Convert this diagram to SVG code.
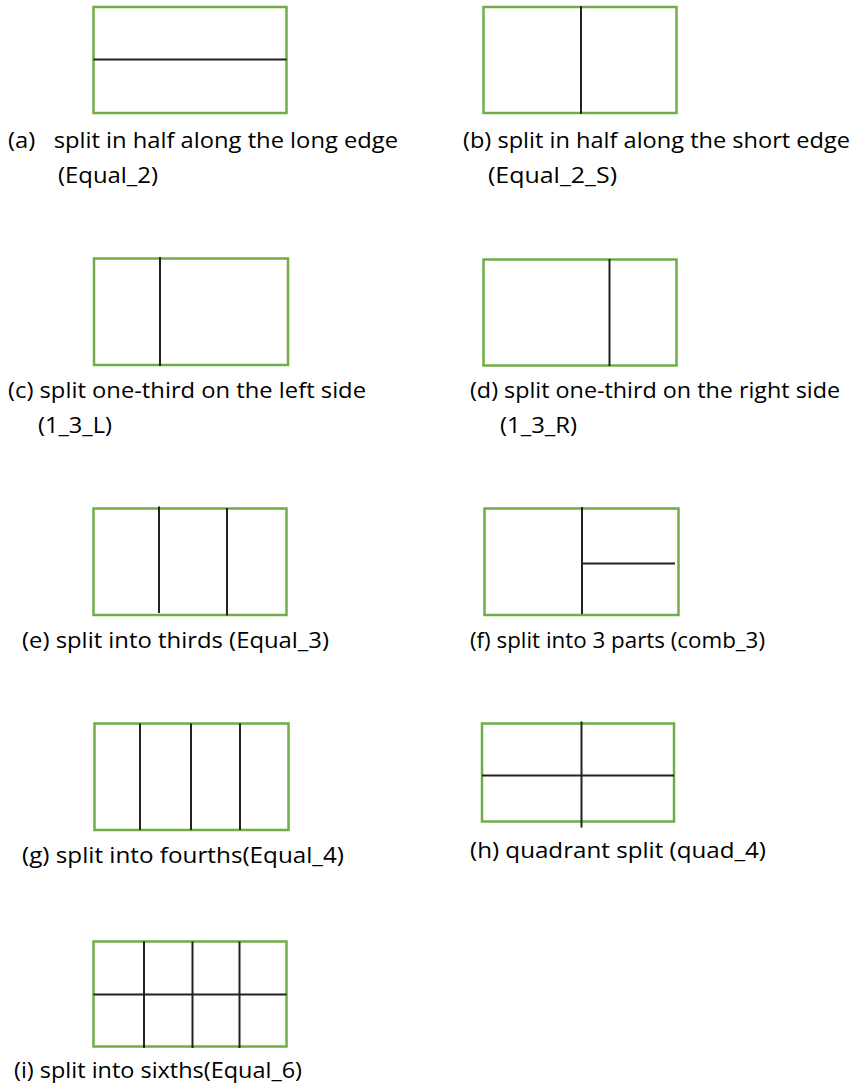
<svg xmlns="http://www.w3.org/2000/svg" width="854" height="1092" viewBox="0 0 854 1092">
<style>
.box{fill:#fff;stroke:#70ad47;stroke-width:2.5}
.ln{stroke:#222;stroke-width:2;fill:none}
.t{font-family:"Open Sans","Liberation Sans",sans-serif;font-size:21px;fill:#000}
</style>
<rect width="854" height="1092" fill="#fff"/>
<g id="a">
<rect class="box" x="93.5" y="7" width="193" height="106"/>
<line class="ln" x1="93.5" y1="59.5" x2="286.5" y2="59.5"/>
<text class="t" x="8" y="148" textLength="390" lengthAdjust="spacingAndGlyphs" xml:space="preserve">(a)   split in half along the long edge</text>
<text class="t" x="58" y="183" textLength="100" lengthAdjust="spacingAndGlyphs">(Equal_2)</text>
</g>
<g id="b">
<rect class="box" x="483.5" y="7" width="193" height="106"/>
<line class="ln" x1="581" y1="6" x2="581" y2="114"/>
<text class="t" x="463" y="148" textLength="387" lengthAdjust="spacingAndGlyphs">(b) split in half along the short edge</text>
<text class="t" x="488" y="183" textLength="129" lengthAdjust="spacingAndGlyphs">(Equal_2_S)</text>
</g>
<g id="c">
<rect class="box" x="94" y="258.5" width="194" height="106.5"/>
<line class="ln" x1="160" y1="257" x2="160" y2="366"/>
<text class="t" x="8" y="398" textLength="358" lengthAdjust="spacingAndGlyphs">(c) split one-third on the left side</text>
<text class="t" x="38" y="433" textLength="74" lengthAdjust="spacingAndGlyphs">(1_3_L)</text>
</g>
<g id="d">
<rect class="box" x="483.5" y="259.5" width="193" height="106"/>
<line class="ln" x1="609.5" y1="259" x2="609.5" y2="366"/>
<text class="t" x="470" y="398" textLength="370" lengthAdjust="spacingAndGlyphs">(d) split one-third on the right side</text>
<text class="t" x="500" y="433" textLength="77" lengthAdjust="spacingAndGlyphs">(1_3_R)</text>
</g>
<g id="e">
<rect class="box" x="93.5" y="508.5" width="193" height="106.5"/>
<line class="ln" x1="159" y1="506.5" x2="159" y2="613"/>
<line class="ln" x1="227" y1="508" x2="227" y2="615.5"/>
<text class="t" x="22" y="648" textLength="307" lengthAdjust="spacingAndGlyphs">(e) split into thirds (Equal_3)</text>
</g>
<g id="f">
<rect class="box" x="484.5" y="508.5" width="194" height="106.5"/>
<line class="ln" x1="582" y1="507" x2="582" y2="614"/>
<line class="ln" x1="582" y1="563.5" x2="675" y2="563.5"/>
<text class="t" x="470" y="648" textLength="295" lengthAdjust="spacingAndGlyphs">(f) split into 3 parts (comb_3)</text>
</g>
<g id="g">
<rect class="box" x="94.5" y="723.5" width="194" height="106.5"/>
<line class="ln" x1="140" y1="723.5" x2="140" y2="830"/>
<line class="ln" x1="191" y1="723.5" x2="191" y2="830"/>
<line class="ln" x1="240" y1="723.5" x2="240" y2="830"/>
<text class="t" x="22" y="863" textLength="322" lengthAdjust="spacingAndGlyphs">(g) split into fourths(Equal_4)</text>
</g>
<g id="h">
<rect class="box" x="482" y="723.5" width="192" height="98"/>
<line class="ln" x1="581.5" y1="721.5" x2="581.5" y2="827.5"/>
<line class="ln" x1="482" y1="775.5" x2="674" y2="775.5"/>
<text class="t" x="470" y="858" textLength="296" lengthAdjust="spacingAndGlyphs">(h) quadrant split (quad_4)</text>
</g>
<g id="i">
<rect class="box" x="93.5" y="941.5" width="193" height="105"/>
<line class="ln" x1="144" y1="941.5" x2="144" y2="1048"/>
<line class="ln" x1="192.5" y1="941.5" x2="192.5" y2="1048"/>
<line class="ln" x1="239.5" y1="941.5" x2="239.5" y2="1048"/>
<line class="ln" x1="93.5" y1="994.5" x2="286.5" y2="994.5"/>
<text class="t" x="14" y="1078" textLength="288" lengthAdjust="spacingAndGlyphs">(i) split into sixths(Equal_6)</text>
</g>
</svg>
